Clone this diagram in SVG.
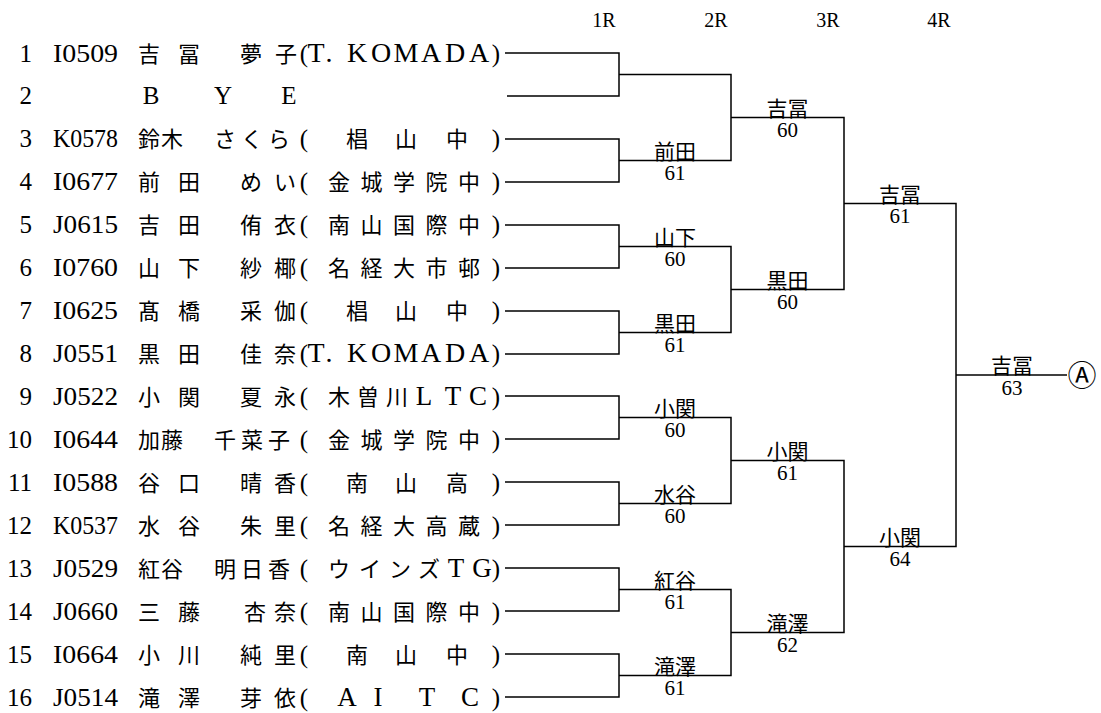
<svg xmlns="http://www.w3.org/2000/svg" width="1101" height="713" viewBox="0 0 1101 713">
<style>
.t{font-family:"Liberation Serif",serif;font-size:25px;fill:#000}
.j{font-family:"Noto Sans CJK JP",sans-serif;font-size:22px;fill:#000}
.m{text-anchor:middle}
.e{text-anchor:end}
.h{font-family:"Liberation Serif",serif;font-size:20px;text-anchor:middle}
.ln{font-family:"Noto Sans CJK JP",sans-serif;font-size:21px;text-anchor:middle}
.sc{font-family:"Liberation Serif",serif;font-size:21px;text-anchor:middle}
.k{font-size:28px}
.w{font-size:27px}
.cn{stroke:#000;stroke-width:1.5;fill:none}
</style>
<rect width="1101" height="713" fill="#fff"/>
<g id="headers">
<text class="h" x="604" y="27">1R</text>
<text class="h" x="716" y="27">2R</text>
<text class="h" x="828" y="27">3R</text>
<text class="h" x="939" y="27">4R</text>
</g>
<g id="connectors" class="cn">
<path d="M505 53H619V96H507M505 139H619V182H505M505 225H619V268H505M505 311H619V354H505M505 396H619V439H505M505 482H619V525H505M505 568H619V611H505M505 654H619V697H505"/>
<path d="M619 74.5H731V160.5H619M619 246.5H731V332.5H619M619 417.5H731V503.5H619M619 589.5H731V675.5H619"/>
<path d="M731 117.5H844V289.5H731M731 460.5H844V632.5H731"/>
<path d="M844 203.5H956V546.5H844"/>
<path d="M956 375H1067"/>
</g>
<g id="p1"><text class="t e" x="32" y="61.5">1</text><text class="t" x="53" y="61.5" textLength="65" lengthAdjust="spacingAndGlyphs">I0509</text><text class="j m" y="61.5" x="149 189">吉冨</text><text class="j m" y="61.5" x="251 286">夢子</text><text class="m" y="61.5"><tspan class="t" x="304">(</tspan><tspan class="t k" x="316 329 336 357 381 406 431 455 479">T. KOMADA</tspan><tspan class="t" x="496">)</tspan></text></g>
<g id="p2"><text class="t e" x="32" y="104.4">2</text><text class="t m" y="104.4" x="151 223 289">BYE</text></g>
<g id="p3"><text class="t e" x="32" y="147.4">3</text><text class="t" x="53" y="147.4" textLength="65" lengthAdjust="spacingAndGlyphs">K0578</text><text class="j m" y="147.4" x="149 172">鈴木</text><text class="j m" y="147.4" x="225 252 279">さくら</text><text class="m" y="147.4"><tspan class="t" x="304">(</tspan><tspan class="j" x="357 406 457">椙山中</tspan><tspan class="t" x="496">)</tspan></text></g>
<g id="p4"><text class="t e" x="32" y="190.3">4</text><text class="t" x="53" y="190.3" textLength="65" lengthAdjust="spacingAndGlyphs">I0677</text><text class="j m" y="190.3" x="149 189">前田</text><text class="j m" y="190.3" x="251 285">めい</text><text class="m" y="190.3"><tspan class="t" x="304">(</tspan><tspan class="j" x="339 371.5 404 436.5 469">金城学院中</tspan><tspan class="t" x="496">)</tspan></text></g>
<g id="p5"><text class="t e" x="32" y="233.2">5</text><text class="t" x="53" y="233.2" textLength="65" lengthAdjust="spacingAndGlyphs">J0615</text><text class="j m" y="233.2" x="149 189">吉田</text><text class="j m" y="233.2" x="251 285">侑衣</text><text class="m" y="233.2"><tspan class="t" x="304">(</tspan><tspan class="j" x="339 371.5 404 436.5 469">南山国際中</tspan><tspan class="t" x="496">)</tspan></text></g>
<g id="p6"><text class="t e" x="32" y="276.2">6</text><text class="t" x="53" y="276.2" textLength="65" lengthAdjust="spacingAndGlyphs">I0760</text><text class="j m" y="276.2" x="149 189">山下</text><text class="j m" y="276.2" x="251 285">紗椰</text><text class="m" y="276.2"><tspan class="t" x="304">(</tspan><tspan class="j" x="339 371.5 404 436.5 469">名経大市邨</tspan><tspan class="t" x="496">)</tspan></text></g>
<g id="p7"><text class="t e" x="32" y="319.1">7</text><text class="t" x="53" y="319.1" textLength="65" lengthAdjust="spacingAndGlyphs">I0625</text><text class="j m" y="319.1" x="149 189">髙橋</text><text class="j m" y="319.1" x="251 285">采伽</text><text class="m" y="319.1"><tspan class="t" x="304">(</tspan><tspan class="j" x="357 406 457">椙山中</tspan><tspan class="t" x="496">)</tspan></text></g>
<g id="p8"><text class="t e" x="32" y="362">8</text><text class="t" x="53" y="362" textLength="65" lengthAdjust="spacingAndGlyphs">J0551</text><text class="j m" y="362" x="149 189">黒田</text><text class="j m" y="362" x="251 285">佳奈</text><text class="m" y="362"><tspan class="t" x="304">(</tspan><tspan class="t k" x="316 329 336 357 381 406 431 455 479">T. KOMADA</tspan><tspan class="t" x="496">)</tspan></text></g>
<g id="p9"><text class="t e" x="32" y="404.9">9</text><text class="t" x="53" y="404.9" textLength="65" lengthAdjust="spacingAndGlyphs">J0522</text><text class="j m" y="404.9" x="149 189">小関</text><text class="j m" y="404.9" x="251 285">夏永</text><text class="m" y="404.9"><tspan class="t" x="304">(</tspan><tspan class="j" x="339 368 397">木曽川</tspan><tspan class="t w" x="424 453 478">LTC</tspan><tspan class="t" x="496">)</tspan></text></g>
<g id="p10"><text class="t e" x="32" y="447.9">10</text><text class="t" x="53" y="447.9" textLength="65" lengthAdjust="spacingAndGlyphs">I0644</text><text class="j m" y="447.9" x="149 172">加藤</text><text class="j m" y="447.9" x="225 252 279">千菜子</text><text class="m" y="447.9"><tspan class="t" x="304">(</tspan><tspan class="j" x="339 371.5 404 436.5 469">金城学院中</tspan><tspan class="t" x="496">)</tspan></text></g>
<g id="p11"><text class="t e" x="32" y="490.8">11</text><text class="t" x="53" y="490.8" textLength="65" lengthAdjust="spacingAndGlyphs">I0588</text><text class="j m" y="490.8" x="149 189">谷口</text><text class="j m" y="490.8" x="251 285">晴香</text><text class="m" y="490.8"><tspan class="t" x="304">(</tspan><tspan class="j" x="357 406 457">南山高</tspan><tspan class="t" x="496">)</tspan></text></g>
<g id="p12"><text class="t e" x="32" y="533.7">12</text><text class="t" x="53" y="533.7" textLength="65" lengthAdjust="spacingAndGlyphs">K0537</text><text class="j m" y="533.7" x="149 189">水谷</text><text class="j m" y="533.7" x="251 285">朱里</text><text class="m" y="533.7"><tspan class="t" x="304">(</tspan><tspan class="j" x="339 371.5 404 436.5 469">名経大高蔵</tspan><tspan class="t" x="496">)</tspan></text></g>
<g id="p13"><text class="t e" x="32" y="576.7">13</text><text class="t" x="53" y="576.7" textLength="65" lengthAdjust="spacingAndGlyphs">J0529</text><text class="j m" y="576.7" x="149 172">紅谷</text><text class="j m" y="576.7" x="225 252 279">明日香</text><text class="m" y="576.7"><tspan class="t" x="304">(</tspan><tspan class="j" x="339 370 400 429">ウインズ</tspan><tspan class="t w" x="456 482">TG</tspan><tspan class="t" x="496">)</tspan></text></g>
<g id="p14"><text class="t e" x="32" y="619.6">14</text><text class="t" x="53" y="619.6" textLength="65" lengthAdjust="spacingAndGlyphs">J0660</text><text class="j m" y="619.6" x="149 189">三藤</text><text class="j m" y="619.6" x="255 285">杏奈</text><text class="m" y="619.6"><tspan class="t" x="304">(</tspan><tspan class="j" x="339 371.5 404 436.5 469">南山国際中</tspan><tspan class="t" x="496">)</tspan></text></g>
<g id="p15"><text class="t e" x="32" y="662.5">15</text><text class="t" x="53" y="662.5" textLength="65" lengthAdjust="spacingAndGlyphs">I0664</text><text class="j m" y="662.5" x="149 189">小川</text><text class="j m" y="662.5" x="251 285">純里</text><text class="m" y="662.5"><tspan class="t" x="304">(</tspan><tspan class="j" x="357 406 457">南山中</tspan><tspan class="t" x="496">)</tspan></text></g>
<g id="p16"><text class="t e" x="32" y="705.5">16</text><text class="t" x="53" y="705.5" textLength="65" lengthAdjust="spacingAndGlyphs">J0514</text><text class="j m" y="705.5" x="149 189">滝澤</text><text class="j m" y="705.5" x="251 285">芽依</text><text class="m" y="705.5"><tspan class="t" x="304">(</tspan><tspan class="t w" x="347 378 427 470">AITC</tspan><tspan class="t" x="496">)</tspan></text></g>
<g id="r1m2"><text class="ln" x="675" y="158.5">前田</text><text class="sc" x="675" y="180">61</text></g>
<g id="r1m3"><text class="ln" x="675" y="244.5">山下</text><text class="sc" x="675" y="266">60</text></g>
<g id="r1m4"><text class="ln" x="675" y="330.5">黒田</text><text class="sc" x="675" y="352">61</text></g>
<g id="r1m5"><text class="ln" x="675" y="415.5">小関</text><text class="sc" x="675" y="437">60</text></g>
<g id="r1m6"><text class="ln" x="675" y="501.5">水谷</text><text class="sc" x="675" y="523">60</text></g>
<g id="r1m7"><text class="ln" x="675" y="587.5">紅谷</text><text class="sc" x="675" y="609">61</text></g>
<g id="r1m8"><text class="ln" x="675" y="673.5">滝澤</text><text class="sc" x="675" y="695">61</text></g>
<g id="r2m1"><text class="ln" x="787.5" y="115.5">吉冨</text><text class="sc" x="787.5" y="137">60</text></g>
<g id="r2m2"><text class="ln" x="787.5" y="287.5">黒田</text><text class="sc" x="787.5" y="309">60</text></g>
<g id="r2m3"><text class="ln" x="787.5" y="458.5">小関</text><text class="sc" x="787.5" y="480">61</text></g>
<g id="r2m4"><text class="ln" x="787.5" y="630.5">滝澤</text><text class="sc" x="787.5" y="652">62</text></g>
<g id="r3m1"><text class="ln" x="900" y="201.5">吉冨</text><text class="sc" x="900" y="223">61</text></g>
<g id="r3m2"><text class="ln" x="900" y="544.5">小関</text><text class="sc" x="900" y="566">64</text></g>
<g id="final"><text class="ln" x="1012" y="373">吉冨</text><text class="sc" x="1012" y="394.5">63</text></g>
<g id="markA"><text x="1082" y="386" style="font-family:'Noto Sans CJK JP','DejaVu Sans',sans-serif;font-size:29px;text-anchor:middle">Ⓐ</text></g>
</svg>
